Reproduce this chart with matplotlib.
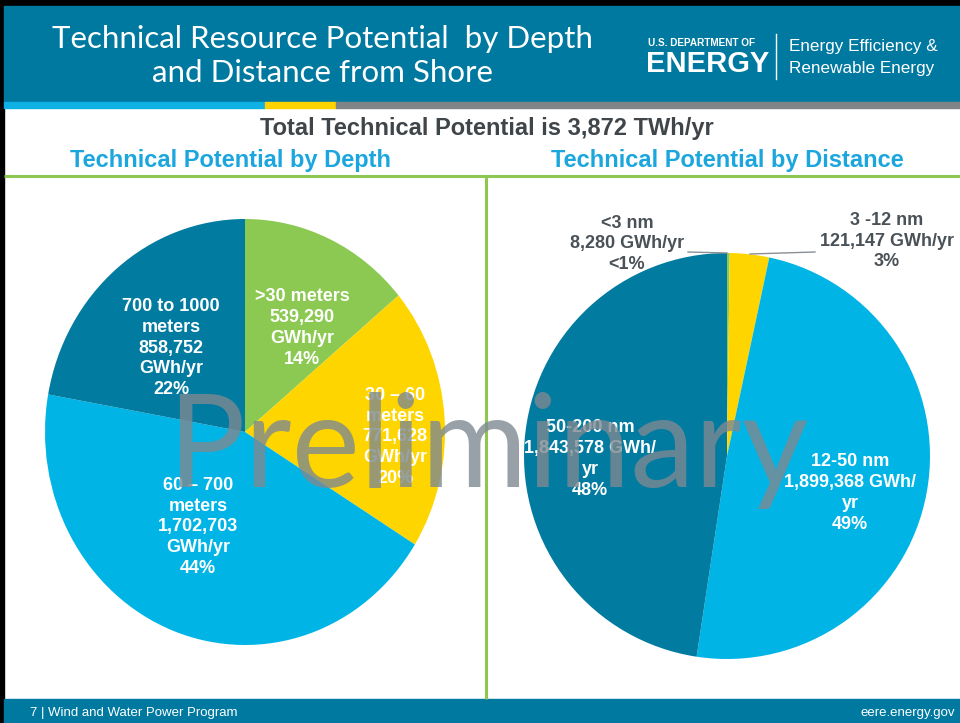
import matplotlib
matplotlib.use("Agg")
import matplotlib.pyplot as plt
from matplotlib.patches import Rectangle

# -----------------------------
# Data
# -----------------------------
depth_names = [">30 meters", "30 – 60\nmeters", "60 – 700\nmeters", "700 to 1000\nmeters"]
depth_values = [539290, 771628, 1702703, 858752]

distance_names = ["<3 nm", "3 -12 nm", "12-50 nm", "50-200 nm"]
distance_values = [8280, 121147, 1899368, 1843578]

TOTAL_TWH = 3872

# -----------------------------
# Styles
# -----------------------------
W, H = 960, 723
TEAL = "#0079A1"
DARK_BLUE = "#017BA0"
LIGHT_BLUE = "#00B4E6"
YELLOW = "#FFD500"
GREEN = "#8CC952"
LINE_GREEN = "#8DC653"
HEAD_BLUE = "#1BA6DE"
DARK_GRAY = "#3F4549"
SANS = ["Liberation Sans", "DejaVu Sans"]

depth_colors = [GREEN, YELLOW, LIGHT_BLUE, DARK_BLUE]
distance_colors = [GREEN, YELLOW, LIGHT_BLUE, DARK_BLUE]


def pct_text(v, total):
    p = v / total * 100
    return "<1%" if p < 1 else f"{p:.0f}%"


def px_axes(fig, x0, y0, x1, y1, **kw):
    # axes from pixel box (top-left origin)
    return fig.add_axes([x0 / W, 1 - y1 / H, (x1 - x0) / W, (y1 - y0) / H], **kw)


fig = plt.figure(figsize=(W / 100, H / 100), dpi=100)
fig.patch.set_facecolor("white")

# background / frame layer
bg = fig.add_axes([0, 0, 1, 1], zorder=0)
bg.set_xlim(0, W)
bg.set_ylim(H, 0)
bg.axis("off")

bg.add_patch(Rectangle((0, 0), W, 6, color="black"))
bg.add_patch(Rectangle((0, 0), 4, H, color="black"))
bg.add_patch(Rectangle((4, 6), W - 4, 96, color=TEAL))
bg.add_patch(Rectangle((4, 102), 261, 6, color="#0FB0E3"))
bg.add_patch(Rectangle((265, 102), 71, 6, color="#FFD200"))
bg.add_patch(Rectangle((336, 102), W - 336, 6, color="#7F8487"))
bg.add_patch(Rectangle((4, 699), W - 4, H - 699, color=TEAL))
bg.plot([4, W], [176, 176], color=LINE_GREEN, lw=2.2, solid_capstyle="butt")
bg.plot([486, 486], [176, 699], color=LINE_GREEN, lw=2.2, solid_capstyle="butt")
bg.plot([776, 776], [34, 79], color="white", lw=1)

# -----------------------------
# Pies
# -----------------------------
ax1 = px_axes(fig, 45, 219, 445, 645, zorder=1)
ax1.pie(depth_values, colors=depth_colors, startangle=90, counterclock=False,
        radius=1, wedgeprops=dict(linewidth=0))
ax1.set_aspect("auto")
ax1.set_xlim(-1, 1)
ax1.set_ylim(-1, 1)
ax1.axis("off")

ax2 = px_axes(fig, 524, 253, 930, 659, zorder=1)
ax2.pie(distance_values, colors=distance_colors, startangle=90, counterclock=False,
        radius=1, wedgeprops=dict(linewidth=0))
ax2.set_aspect("auto")
ax2.set_xlim(-1, 1)
ax2.set_ylim(-1, 1)
ax2.axis("off")

# -----------------------------
# Text overlay
# -----------------------------
ov = fig.add_axes([0, 0, 1, 1], zorder=3)
ov.set_xlim(0, W)
ov.set_ylim(H, 0)
ov.axis("off")
ov.patch.set_alpha(0)

ov.text(322, 56, "Technical Resource Potential  by Depth\nand Distance from Shore",
        color="white", fontsize=22.5, family=["Lato", "DejaVu Sans"],
        ha="center", va="center", linespacing=1.3)

ov.text(648, 43, "U.S. DEPARTMENT OF", color="white", fontsize=7.2, weight="bold",
        family=SANS, ha="left", va="center")
ov.text(646, 64, "ENERGY", color="white", fontsize=21, weight="bold",
        family=SANS, ha="left", va="center")
ov.text(789, 47, "Energy Efficiency &", color="white", fontsize=12.3,
        family=SANS, ha="left", va="center")
ov.text(789, 69, "Renewable Energy", color="white", fontsize=12.3,
        family=SANS, ha="left", va="center")

ov.text(487, 128, f"Total Technical Potential is {TOTAL_TWH:,} TWh/yr", color=DARK_GRAY,
        fontsize=17, weight="bold", family=SANS, ha="center", va="center")
ov.text(231, 161, "Technical Potential by Depth", color=HEAD_BLUE,
        fontsize=17, weight="bold", family=SANS, ha="center", va="center")
ov.text(727, 161, "Technical Potential by Distance", color=HEAD_BLUE,
        fontsize=17, weight="bold", family=SANS, ha="center", va="center")

# depth labels (inside wedges)
depth_total = sum(depth_values)
depth_pos = [(302, 328), (395, 437), (198, 527), (171, 348)]
for name, v, (x, y) in zip(depth_names, depth_values, depth_pos):
    label = f"{name}\n{v:,}\nGWh/yr\n{pct_text(v, depth_total)}"
    ov.text(x, y, label, color="white", fontsize=13, weight="bold", family=SANS,
            ha="center", va="center", linespacing=1.3)

# distance labels
dist_total = sum(distance_values)
inside_pos = {2: (850, 493), 3: (590, 459)}
for i, (x, y) in inside_pos.items():
    v = distance_values[i]
    label = f"{distance_names[i]}\n{v:,} GWh/\nyr\n{pct_text(v, dist_total)}"
    ov.text(x, y, label, color="white", fontsize=13, weight="bold", family=SANS,
            ha="center", va="center", linespacing=1.3)

outside_pos = {0: (627, 244), 1: (887, 241)}
for i, (x, y) in outside_pos.items():
    v = distance_values[i]
    label = f"{distance_names[i]}\n{v:,} GWh/yr\n{pct_text(v, dist_total)}"
    ov.text(x, y, label, color="#4A5157", fontsize=13, weight="bold", family=SANS,
            ha="center", va="center", linespacing=1.3)

ov.plot([688, 727], [252, 253], color="#8A8F93", lw=1)
ov.plot([750, 815], [254, 252], color="#8A8F93", lw=1)

# footer
ov.text(30, 713, "7 | Wind and Water Power Program", color="white", fontsize=9.5,
        family=SANS, ha="left", va="center")
ov.text(955, 713, "eere.energy.gov", color="white", fontsize=9.5,
        family=SANS, ha="right", va="center")

# watermark
ov.text(488, 487, "Preliminary", color="#7E8A91", alpha=0.8, fontsize=93,
        family=["Lato", "DejaVu Sans"], ha="center", va="baseline", zorder=10)

fig.savefig("out.png", dpi=100)
